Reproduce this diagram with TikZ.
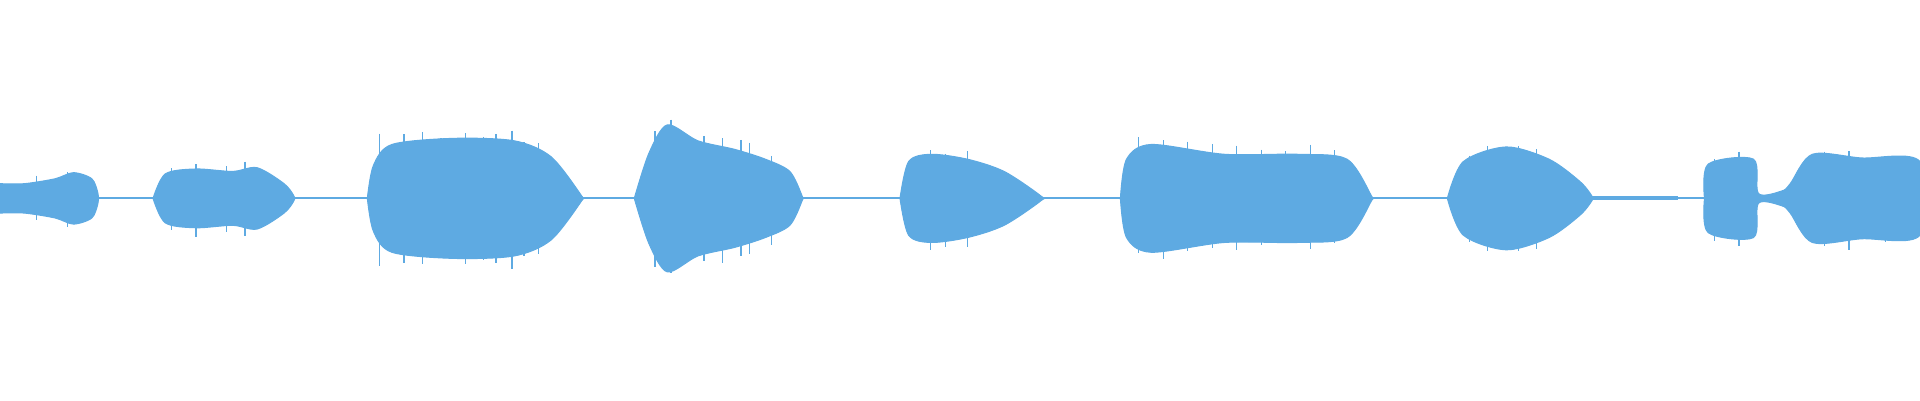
\documentclass[tikz,border=0pt]{standalone}
\usepackage{tikz}
\definecolor{wave}{RGB}{94,170,226}
\tikzset{
  blob/.style={fill=wave, draw=wave, line width=0.3pt},
  hum/.style={draw=wave, line width=0.6pt}
}
% symmetric envelope: list of (x,amp)
\newcommand{\envelope}[1]{%
  \fill[blob] plot[smooth] coordinates {#1} -- cycle;}
\begin{document}
\begin{tikzpicture}[x=0.012245cm, y=-0.012245cm]
  \useasboundingbox (0,0) rectangle (1568,326.7);

  % Quiet stretches
  \draw[hum] (0,162) -- (1568,162);
  \draw[hum, line width=1.2pt] (1300,162) -- (1370,162);

  % Bursts
  \envelope{(0,150) (20,150) (45,146) (60,141) (75,146) (80,158) (80,166) (75,178) (60,183) (45,178) (20,174) (0,174)}
  \envelope{(125,162) (135,142) (160,138) (190,140) (210,137) (232,150) (240,160) (240,164) (232,174) (210,187) (190,184) (160,186) (135,182) (125,162)}
  \envelope{(300,162) (305,135) (320,118) (370,113) (420,115) (450,128) (475,160) (475,164) (450,196) (420,209) (370,211) (320,206) (305,189) (300,162)}
  \envelope{(518,162) (530,125) (545,102) (570,115) (600,122) (625,130) (645,140) (655,160) (655,164) (645,184) (625,194) (600,202) (570,209) (545,222) (530,199) (518,162)}
  \envelope{(735,162) (742,132) (760,126) (790,130) (820,140) (850,160) (850,164) (820,184) (790,194) (760,198) (742,192) (735,162)}
  \envelope{(915,162) (920,130) (940,118) (1000,126) (1060,126) (1100,130) (1120,160) (1120,164) (1100,194) (1060,198) (1000,198) (940,206) (920,194) (915,162)}
  \envelope{(1182,162) (1195,132) (1230,120) (1265,130) (1290,148) (1300,160) (1300,164) (1290,176) (1265,194) (1230,204) (1195,192) (1182,162)}
  \envelope{(1392,162) (1395,134) (1432,130) (1436,158) (1455,156) (1462,150) (1480,126) (1520,129) (1568,132) (1568,192) (1520,195) (1480,198) (1462,174) (1455,168) (1436,166) (1432,194) (1395,190) (1392,162)}

  % Ragged edges
  \pgfmathsetseed{7}
  \foreach \x/\a in {310/52,330/47,345/50,360/46,380/52,395/49,405/48,418/53,428/42,440/44,535/50,548/60,560/52,575/45,590/48,605/44,612/40,630/32,760/38,772/36,790/34,930/44,950/46,970/42,990/40,1010/38,1030/38,1050/36,1070/38,1090/34,1200/34,1215/40,1240/42,1255/36,140/24,160/26,185/24,200/28,30/14,55/21,1400/30,1420/34,1490/38,1510/36,1540/33}
    \draw[hum, line width=0.4pt] (\x,162-\a-rnd*6) -- (\x,162+\a+rnd*6);
\end{tikzpicture}
\end{document}
